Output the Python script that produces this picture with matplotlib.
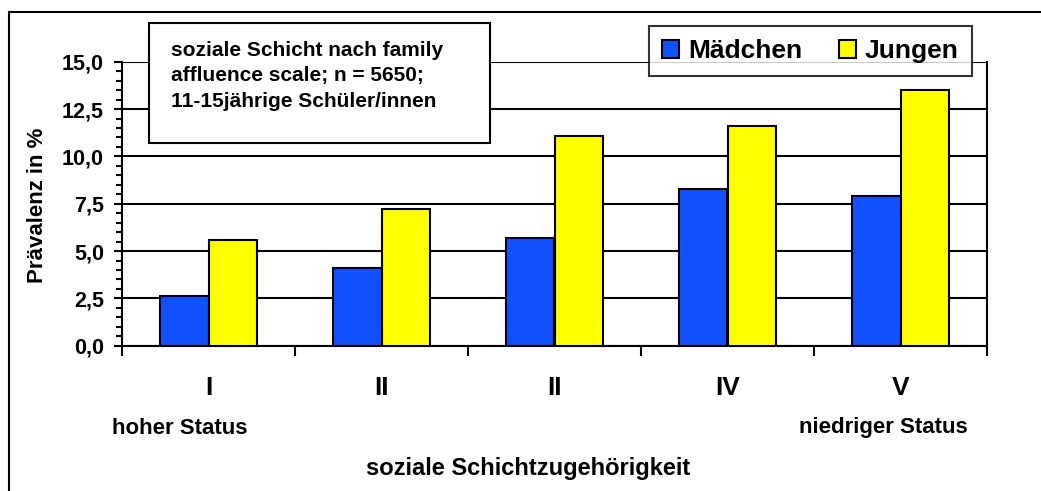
import matplotlib.pyplot as plt
import matplotlib.patches as mpatches
from matplotlib.ticker import MultipleLocator, FuncFormatter
import numpy as np

plt.rcParams['font.family'] = ['Liberation Sans', 'DejaVu Sans']
plt.rcParams['font.weight'] = 'bold'

categories = ['I', 'II', 'II', 'IV', 'V']
maedchen = [2.6, 4.1, 5.7, 8.3, 7.9]
jungen = [5.6, 7.2, 11.1, 11.6, 13.5]
series_names = ['Mädchen', 'Jungen']
box_text = 'soziale Schicht nach family\naffluence scale; n = 5650;\n11-15jährige Schüler/innen'

W, H = 1041, 491
fig = plt.figure(figsize=(W / 100, H / 100), dpi=100)

# outer frame (only left/top visible in the reference)
fig.patches.append(mpatches.Rectangle((9 / W, -0.05), 1.2, 1 - 12 / H + 0.05,
                                      transform=fig.transFigure, fill=False,
                                      edgecolor='black', lw=1.5, zorder=0))

ax = fig.add_axes([122 / W, 1 - 345.7 / H, 865 / W, 284 / H])

x = np.arange(len(categories)) + 0.5
bw = 0.283
ax.bar(x - bw / 2, maedchen, bw, color='#1150FF', edgecolor='black', lw=1.5,
       label=series_names[0], zorder=3)
ax.bar(x + bw / 2, jungen, bw, color='#FFFF00', edgecolor='black', lw=1.5,
       label=series_names[1], zorder=3)

ax.set_xlim(0, len(categories))
ax.set_ylim(0, 15)
ax.yaxis.set_major_locator(MultipleLocator(2.5))
ax.yaxis.set_minor_locator(MultipleLocator(0.5))
ax.yaxis.set_major_formatter(FuncFormatter(lambda v, p: ('%.1f' % v).replace('.', ',')))
ax.grid(axis='y', color='black', lw=1.5, zorder=1)

ax.set_xticks(np.arange(len(categories) + 1))
ax.set_xticklabels([])
ax.set_xticks(x, minor=True)
ax.set_xticklabels(categories, minor=True, fontsize=19, fontweight='bold')
ax.tick_params(axis='x', which='major', direction='out', length=7, width=1.5)
ax.tick_params(axis='x', which='minor', length=0, pad=22)
ax.tick_params(axis='y', which='major', direction='out', length=6, width=1.5,
               labelsize=15.5, pad=7)
ax.tick_params(axis='y', which='minor', direction='out', length=4.5, width=1.5)
for lab in ax.get_yticklabels():
    lab.set_fontweight('bold')

for s in ['left', 'bottom', 'right']:
    ax.spines[s].set_linewidth(1.5)
ax.spines['top'].set_visible(False)

fig.text(38 / W, 1 - 205 / H, 'Prävalenz in %', rotation=90, ha='center',
         va='center', fontsize=16, fontweight='bold')

fig.text(180 / W, 1 - 428 / H, 'hoher Status', ha='center', va='center',
         fontsize=16, fontweight='bold')
fig.text(883 / W, 1 - 428 / H, 'niedriger Status', ha='center', va='center',
         fontsize=16, fontweight='bold')
fig.text(528 / W, 1 - 468 / H, 'soziale Schichtzugehörigkeit', ha='center',
         va='center', fontsize=17, fontweight='bold')

# annotation box
fig.patches.append(mpatches.Rectangle((149 / W, 1 - 143 / H), 341 / W, 120 / H,
                                      transform=fig.transFigure, facecolor='white',
                                      edgecolor='black', lw=1.5, zorder=5))
fig.text(171 / W, 1 - 41 / H, box_text, ha='left', va='top', fontsize=15,
         fontweight='bold', linespacing=1.42, zorder=6)

leg = ax.legend(loc='upper left', bbox_to_anchor=(649 / W, 1 - 26 / H),
                bbox_transform=fig.transFigure, ncol=2, fontsize=19,
                frameon=True, fancybox=False, edgecolor='black',
                handlelength=0.65, handleheight=0.65, handletextpad=0.33,
                columnspacing=1.4, borderpad=0.5, borderaxespad=0)
leg.get_frame().set_linewidth(1.5)
leg.set_zorder(10)
for t in leg.get_texts():
    t.set_fontweight('bold')

fig.savefig('out.png', dpi=100)
